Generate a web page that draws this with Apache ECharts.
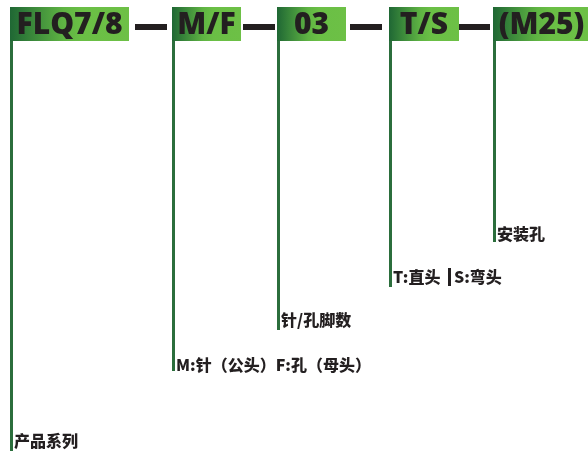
<!DOCTYPE html>
<html>
<head>
<meta charset="utf-8">
<script src="https://cdn.jsdelivr.net/npm/echarts@6/dist/echarts.min.js"></script>
<style>html,body{margin:0;padding:0;background:#fff}#c{width:588px;height:456px}</style>
</head>
<body>
<div id="c"></div>
<script>
// Content
var codes = ['FLQ7/8', 'M/F', '03', 'T/S', '(M25)'];
var descriptions = ['产品系列', 'M:针（公头）F:孔（母头）', '针/孔脚数', 'T:直头', '安装孔'];
var extraLabel = 'S:弯头';

// Layout (pixels)
var boxLeft = [10, 172, 277, 389, 493];
var boxRight = [129, 241, 346, 459, 590];
var boxTop = 7, boxBottom = 41;
var lineEnd = [451, 371, 330, 287, 242];
var labelY = [441, 365, 320, 277, 234];
var dashes = [[135, 167], [243, 275], [350, 382], [459, 490]];

var dark = '#231f20';
var lineGreen = '#2b6e3c';
var cjkFont = '900 16px "Noto Sans CJK SC", "Open Sans", sans-serif';

var chart = echarts.init(document.getElementById('c'), null, {renderer: 'canvas'});

function boxItem(params, api) {
  var i = api.value(0);
  var p0 = api.coord([boxLeft[i], boxTop]);
  var p1 = api.coord([boxRight[i], boxBottom]);
  var l0 = api.coord([boxLeft[i] + 1.5, boxBottom]);
  var l1 = api.coord([boxLeft[i] + 1.5, lineEnd[i]]);
  var lab = api.coord([boxLeft[i] + 4, labelY[i]]);
  var children = [
    {type: 'rect', shape: {x: p0[0], y: p0[1], width: p1[0] - p0[0], height: p1[1] - p0[1]},
     style: {fill: new echarts.graphic.LinearGradient(0, 0, 1, 0, [
       {offset: 0, color: '#1f6734'}, {offset: 0.45, color: '#5fb443'}, {offset: 0.6, color: '#6abf45'}, {offset: 1, color: '#6dc046'}])}},
    {type: 'text', x: (p0[0] + p1[0]) / 2, y: (p0[1] + p1[1]) / 2 + 1,
     style: {text: codes[i], fill: dark, font: '800 30px "Open Sans", "DejaVu Sans", sans-serif', align: 'center', verticalAlign: 'middle'}},
    {type: 'rect', shape: {x: l0[0] - 1.5, y: l0[1], width: 3, height: l1[1] - l0[1]}, style: {fill: lineGreen}},
    {type: 'text', x: lab[0], y: lab[1],
     style: {text: descriptions[i], fill: dark, font: cjkFont, align: 'left', verticalAlign: 'middle'}}
  ];
  if (i === 3) {
    var b0 = api.coord([448, labelY[i] - 9]);
    var b1 = api.coord([451, labelY[i] + 9]);
    children.push({type: 'rect', shape: {x: b0[0], y: b0[1], width: b1[0] - b0[0], height: b1[1] - b0[1]}, style: {fill: dark}});
    var s = api.coord([454, labelY[i]]);
    children.push({type: 'text', x: s[0], y: s[1],
      style: {text: extraLabel, fill: dark, font: cjkFont, align: 'left', verticalAlign: 'middle'}});
  }
  return {type: 'group', children: children};
}

function dashItem(params, api) {
  var i = api.value(0);
  var a = api.coord([dashes[i][0], 24]);
  var b = api.coord([dashes[i][1], 30]);
  return {type: 'rect', shape: {x: a[0], y: a[1], width: b[0] - a[0], height: b[1] - a[1]}, style: {fill: dark}};
}

chart.setOption({
  animation: false,
  backgroundColor: '#ffffff',
  grid: {left: 0, right: 0, top: 0, bottom: 0},
  xAxis: {type: 'value', min: 0, max: 588, show: false},
  yAxis: {type: 'value', min: 0, max: 456, inverse: true, show: false},
  series: [
    {type: 'custom', renderItem: dashItem, data: dashes.map(function (d, i) { return [i]; }), silent: true},
    {type: 'custom', renderItem: boxItem, data: codes.map(function (c, i) { return [i]; }), silent: true}
  ]
});
</script>
</body>
</html>
